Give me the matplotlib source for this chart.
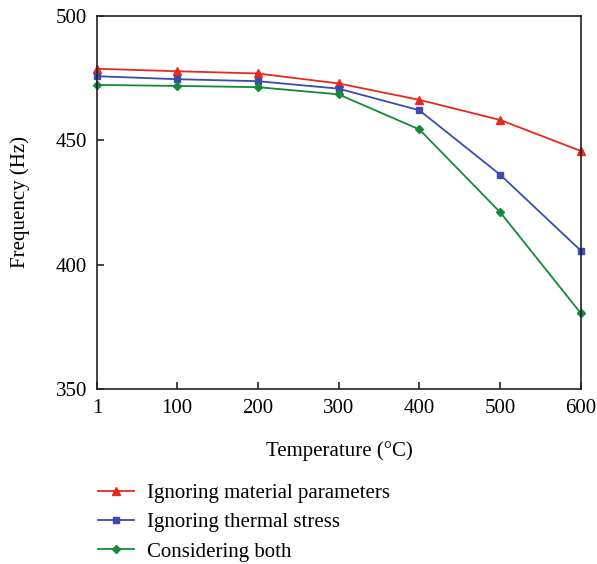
import matplotlib
matplotlib.use("Agg")
import matplotlib.pyplot as plt

plt.rcParams['font.family'] = ['Liberation Serif', 'DejaVu Serif']

# temperature points (deg C) and natural frequency (Hz)
temperature = [1, 100, 200, 300, 400, 500, 600]
ignore_material = [478.8, 477.8, 476.9, 472.9, 466.3, 458.2, 445.7]
ignore_stress = [475.8, 474.6, 473.8, 470.8, 462.1, 436.2, 405.6]
considering_both = [472.3, 471.9, 471.4, 468.5, 454.4, 421.1, 380.4]

xticks = [1, 100, 200, 300, 400, 500, 600]
yticks = [350, 400, 450, 500]

fig = plt.figure(figsize=(5.97, 5.64), dpi=100)
ax = fig.add_axes([0.1625, 0.3105, 0.8105, 0.661])

ax.plot(temperature, ignore_material, color='#e8291c', marker='^', markersize=5.5,
        linewidth=1.3, label='Ignoring material parameters', clip_on=False)
ax.plot(temperature, ignore_stress, color='#3b4bb0', marker='s', markersize=4,
        linewidth=1.3, label='Ignoring thermal stress', clip_on=False)
ax.plot(temperature, considering_both, color='#138a3a', marker='D', markersize=4,
        linewidth=1.3, label='Considering both', clip_on=False)

ax.set_xlim(1, 600)
ax.set_ylim(350, 500)
ax.set_xticks(xticks)
ax.set_yticks(yticks)
ax.tick_params(direction='in', length=5, width=1.2, labelsize=15, pad=7, colors='#222222')
ax.tick_params(labelcolor='black')
for s in ax.spines.values():
    s.set_linewidth(1.2)
    s.set_color('#222222')

ax.set_xlabel('Temperature (°C)', fontsize=15, labelpad=17)
ax.set_ylabel('Frequency (Hz)', fontsize=15, labelpad=19)

ax.legend(loc='upper left', bbox_to_anchor=(-0.037, -0.203), frameon=False,
          fontsize=15, handlelength=1.75, handletextpad=0.6, labelspacing=0.47)

fig.savefig('out.png', dpi=100)
